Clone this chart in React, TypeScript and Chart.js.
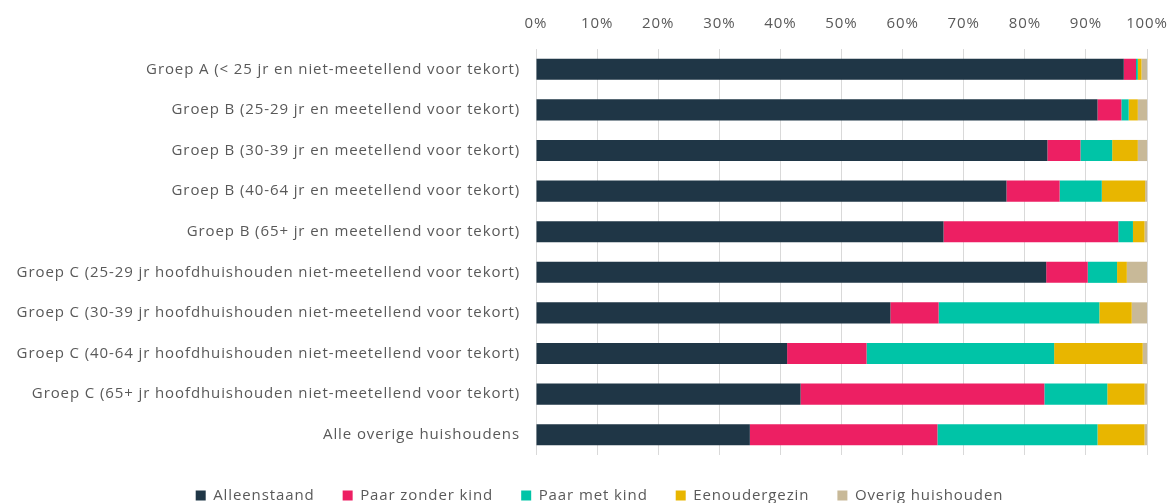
import React, { useEffect, useRef } from "react";
import { Chart, registerables } from "chart.js";

Chart.register(...registerables);

const categories = [
  "Groep A (< 25 jr en niet-meetellend voor tekort)",
  "Groep B (25-29 jr en meetellend voor tekort)",
  "Groep B (30-39 jr en meetellend voor tekort)",
  "Groep B (40-64 jr en meetellend voor tekort)",
  "Groep B (65+ jr en meetellend voor tekort)",
  "Groep C (25-29 jr hoofdhuishouden niet-meetellend voor tekort)",
  "Groep C (30-39 jr hoofdhuishouden niet-meetellend voor tekort)",
  "Groep C (40-64 jr hoofdhuishouden niet-meetellend voor tekort)",
  "Groep C (65+ jr hoofdhuishouden niet-meetellend voor tekort)",
  "Alle overige huishoudens",
];

const alleenstaand = [96.2, 91.9, 83.7, 77.0, 66.7, 83.5, 58.0, 41.1, 43.3, 35.0];
const paarZonderKind = [2.0, 3.9, 5.4, 8.7, 28.6, 6.8, 7.9, 13.0, 39.9, 30.7];
const paarMetKind = [0.3, 1.2, 5.2, 6.9, 2.4, 4.8, 26.3, 30.7, 10.3, 26.2];
const eenoudergezin = [0.6, 1.5, 4.2, 7.1, 1.9, 1.6, 5.3, 14.5, 6.1, 7.7];
const overig = [0.9, 1.5, 1.5, 0.3, 0.4, 3.3, 2.5, 0.7, 0.4, 0.4];

const seriesNames = ["Alleenstaand", "Paar zonder kind", "Paar met kind", "Eenoudergezin", "Overig huishouden"];
const seriesColors = ["#1F3646", "#ED1F63", "#00C4A7", "#E8B600", "#C8B998"];
const xTicks = [0, 10, 20, 30, 40, 50, 60, 70, 80, 90, 100];

const spacingPlugin = {
  id: "letterSpacing",
  beforeLayout(chart: any) {
    chart.ctx.letterSpacing = "0.9px";
  },
  afterLayout(chart: any) {
    const lg = chart.legend;
    if (lg) {
      lg.left = 52;
      lg.width = lg.right - lg.left;
    }
  },
  beforeDraw(chart: any) {
    chart.ctx.letterSpacing = "0.9px";
  },
};

export default function App() {
  const ref = useRef<HTMLCanvasElement>(null);
  useEffect(() => {
    document.body.style.margin = "0";
    const font = { family: "'Open Sans', sans-serif", size: 15 };
    const data = [alleenstaand, paarZonderKind, paarMetKind, eenoudergezin, overig];
    const chart = new Chart(ref.current!, {
      type: "bar",
      plugins: [spacingPlugin],
      data: {
        labels: categories,
        datasets: seriesNames.map((n, i) => ({
          label: n,
          data: data[i],
          backgroundColor: seriesColors[i],
          borderWidth: 0,
          categoryPercentage: 0.52,
          barPercentage: 1,
        })),
      },
      options: {
        indexAxis: "y",
        animation: false,
        responsive: true,
        maintainAspectRatio: false,
        layout: { padding: { left: 0, right: 24, top: 0, bottom: -10 } },
        plugins: {
          tooltip: { enabled: false },
          legend: {
            position: "bottom",
            title: {
              display: true,
              text: "",
              font: { size: 1 },
              padding: { top: 3.8, bottom: 0 },
            },
            labels: {
              boxWidth: 10,
              boxHeight: 10,
              color: "#595959",
              font,
              padding: 28,
            },
          },
        },
        scales: {
          x: {
            position: "top",
            stacked: true,
            min: 0,
            max: 100,
            afterBuildTicks: (s: any) => {
              s.ticks = xTicks.map((v) => ({ value: v }));
            },
            afterFit: (s: any) => {
              s.height = 49;
              s.paddingRight = 0;
              s.paddingLeft = 0;
            },
            ticks: {
              color: "#595959",
              font,
              padding: 16,
              callback: (v: any) => v + "%",
            },
            grid: { color: "#D9D9D9", drawTicks: false, lineWidth: 1 },
            border: { display: false },
          },
          y: {
            stacked: true,
            afterFit: (s: any) => {
              s.width = 536;
            },
            ticks: { color: "#595959", font, padding: 16 },
            grid: { display: false, drawTicks: false },
            border: { display: false },
          },
        },
      },
    });
    return () => chart.destroy();
  }, []);
  return (
    <div style={{ width: 1171, height: 503, position: "relative" }}>
      <canvas ref={ref} />
    </div>
  );
}
